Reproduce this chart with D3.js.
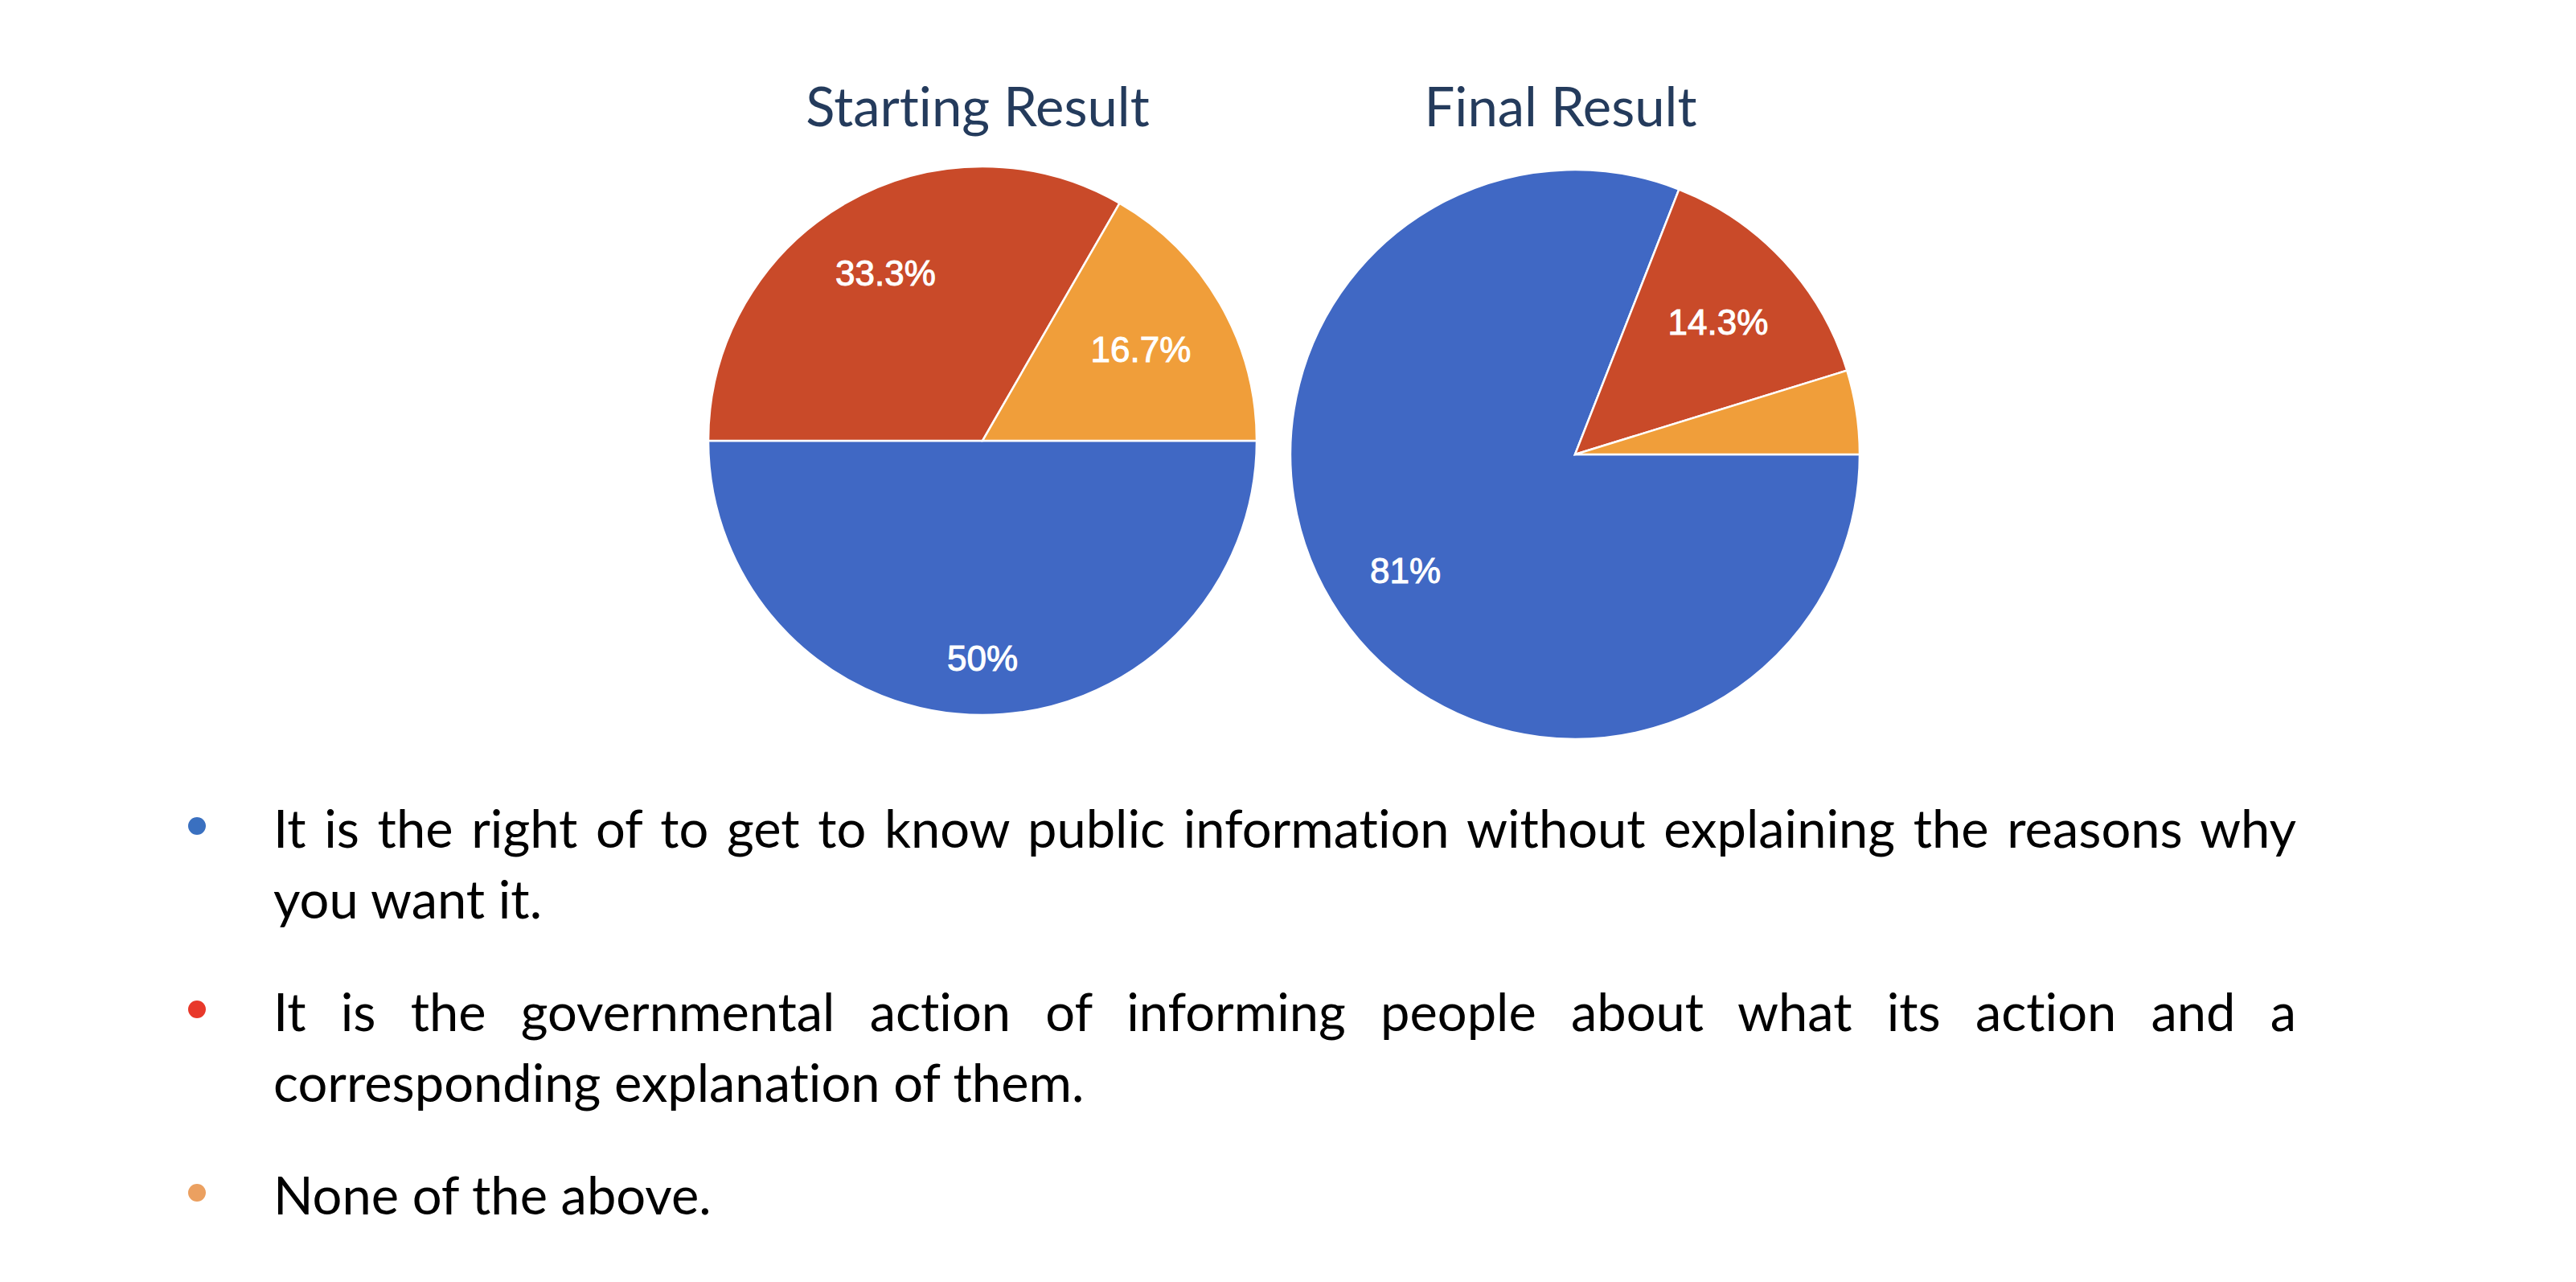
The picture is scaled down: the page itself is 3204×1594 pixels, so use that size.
<!DOCTYPE html>
<html>
<head>
<meta charset="utf-8">
<script src="https://cdn.jsdelivr.net/npm/d3@7"></script>
<style>
  body { margin: 0; background: #fff; }
  svg { display: block; }
  text { font-variant-ligatures: none; }
</style>
</head>
<body>
<div id="chart"></div>
<script>
// answers of the poll, same order in both pies
const answers = ['right to know', 'governmental action', 'none'];
const chartTitles = ['Starting Result', 'Final Result'];
const startingCounts = [3, 2, 1];
const finalCounts = [17, 3, 1];
const sliceColors = ['#4068c4', '#c94a29', '#f09e3a'];
const bulletColors = ['#3a70c0', '#e8382a', '#eba060'];
// legend text, one entry per answer, already broken into lines
const legendLines = [
  ['It is the right of to get to know public information without explaining the reasons why', 'you want it.'],
  ['It is the governmental action of informing people about what its action and a', 'corresponding explanation of them.'],
  ['None of the above.']
];

const width = 3204, height = 1594;
const pct = d3.format('.3~r');

var svg = d3.select('#chart').append('svg')
  .attr('width', width)
  .attr('height', height);

var pies = [
  { title: chartTitles[0], counts: startingCounts, cx: 1222, cy: 548, r: 341, tx: 1216 },
  { title: chartTitles[1], counts: finalCounts, cx: 1959, cy: 565, r: 354, tx: 1941 }
];

// google style: first slice starts at 3 o'clock, clockwise
var pie = d3.pie()
  .sort(null)
  .startAngle(Math.PI / 2)
  .endAngle(Math.PI / 2 + 2 * Math.PI);

pies.forEach(function(p) {
  svg.append('text')
    .attr('x', p.tx)
    .attr('y', 157)
    .attr('text-anchor', 'middle')
    .attr('font-family', 'Lato, "Open Sans", sans-serif')
    .attr('font-size', 67)
    .attr('fill', '#243b5c')
    .text(p.title);

  var g = svg.append('g')
    .attr('transform', `translate(${p.cx}, ${p.cy})`);

  var arc = d3.arc().innerRadius(0).outerRadius(p.r);
  var total = d3.sum(p.counts);
  var arcs = pie(p.counts);

  g.selectAll('path')
    .data(arcs)
    .join('path')
    .attr('d', arc)
    .attr('fill', (d, i) => sliceColors[i])
    .attr('stroke', '#fff')
    .attr('stroke-width', 2.5);

  var fs = 44;
  var labels = g.selectAll('text.lbl')
    .data(arcs.filter(d => d.value / total >= 0.05))
    .join('text')
    .attr('class', 'lbl')
    .attr('text-anchor', 'middle')
    .attr('dy', '0.36em')
    .attr('font-family', '"Liberation Sans", Arial, sans-serif')
    .attr('font-size', fs)
    .attr('fill', '#fff')
    .attr('stroke', '#fff')
    .attr('stroke-width', 1)
    .text(d => pct(100 * d.value / total) + '%');

  // push each label out along the mid angle until its far corner sits at 0.85r
  labels.each(function(d) {
    var bb = this.getBBox();
    var hw = bb.width / 2, hh = 0.36 * fs;
    var a = (d.startAngle + d.endAngle) / 2;
    var ux = Math.sin(a), uy = -Math.cos(a);
    var R = 0.85 * p.r;
    var b = Math.abs(ux) * hw + Math.abs(uy) * hh;
    var c = hw * hw + hh * hh - R * R;
    var dist = -b + Math.sqrt(b * b - c);
    d3.select(this)
      .attr('x', dist * ux)
      .attr('y', dist * uy);
  });
});

// legend with bullets
var legendFont = 'Lato, "Open Sans", sans-serif';
var lineGap = 88;
var itemTops = [1054, 1282, 1510];
var textLeft = 340, textRight = 2856;

var items = svg.selectAll('g.item')
  .data(answers)
  .join('g')
  .attr('class', 'item')
  .attr('transform', (d, i) => `translate(0, ${itemTops[i]})`);

items.append('circle')
  .attr('cx', 245)
  .attr('cy', -27)
  .attr('r', 11)
  .attr('fill', (d, i) => bulletColors[i]);

items.each(function(d, i) {
  var lines = legendLines[i];
  lines.forEach(function(line, j) {
    var t = d3.select(this).append('text')
      .attr('x', textLeft)
      .attr('y', j * lineGap)
      .attr('font-family', legendFont)
      .attr('font-size', 65)
      .attr('fill', '#000')
      .text(line);
    // justified paragraph: every line but the last fills the column,
    // the extra room goes between the words
    if (j < lines.length - 1) {
      var natural = t.node().getComputedTextLength();
      var gaps = line.split(' ').length - 1;
      t.attr('word-spacing', (textRight - textLeft - natural) / gaps);
    }
  }, this);
});
</script>
</body>
</html>
